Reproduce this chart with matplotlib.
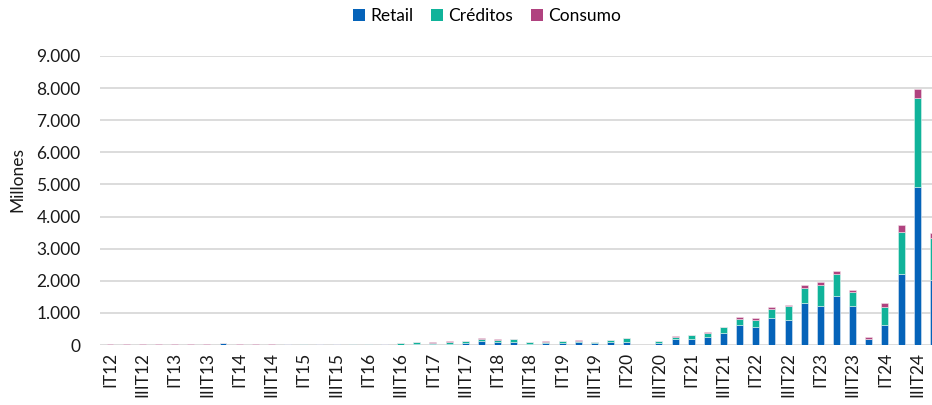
import matplotlib
matplotlib.use("Agg")
import matplotlib.pyplot as plt
from matplotlib.ticker import FuncFormatter
from matplotlib.patches import Patch
import numpy as np

plt.rcParams['font.family'] = ['Lato', 'DejaVu Sans']

years = list(range(12, 25))
roman = ['I', 'II', 'III', 'IV']
quarters = [f"{r}T{y}" for y in years for r in roman]

retail = [10, 10, 10, 10, 10, 10, 10, 50,
          10, 10, 10, 25, 10, 30, 30, 15,
          10, 20, 10, 40, 20, 45, 55, 115,
          85, 95, 20, 50, 55, 100, 50, 95,
          100, 5, 50, 190, 200, 250, 375, 625,
          560, 830, 770, 1320, 1205, 1540, 1205, 180,
          630, 2220, 4920, 2020]
creditos = [5, 5, 5, 5, 5, 5, 5, 10,
            5, 5, 5, 10, 10, 10, 10, 15,
            10, 15, 40, 45, 50, 55, 65, 70,
            75, 80, 70, 50, 55, 35, 40, 60,
            110, 5, 60, 50, 100, 110, 175, 175,
            230, 305, 430, 470, 650, 665, 440, 10,
            555, 1310, 2760, 1320]
consumo = [5, 5, 5, 10, 5, 10, 5, 10,
           5, 5, 5, 5, 20, 5, 5, 10,
           20, 5, 25, 10, 10, 10, 20, 30,
           25, 15, 10, 10, 20, 10, 10, 10,
           20, 5, 5, 30, 10, 50, 10, 60,
           40, 50, 50, 85, 95, 85, 75, 70,
           125, 210, 290, 160]

series_names = ['Retail', 'Créditos', 'Consumo']
colors = ['#0563B9', '#10B39A', '#B0427F']

fig = plt.figure(figsize=(9.32, 4.05), dpi=100)
ax = fig.add_axes([100/932, 60/405, 845/932, 289/405])

x = np.arange(len(quarters))
r = np.array(retail, float)
c = np.array(creditos, float)
co = np.array(consumo, float)
w = 0.43
ax.bar(x, r, w, color=colors[0], edgecolor='#dfe8f3', linewidth=0.4, zorder=3)
ax.bar(x, c, w, bottom=r, color=colors[1], edgecolor='#dff3ef', linewidth=0.4, zorder=3)
ax.bar(x, co, w, bottom=r + c, color=colors[2], edgecolor='#f3dfe9', linewidth=0.4, zorder=3)

ax.set_xlim(-0.62, 51.72)
ax.set_ylim(0, 9000)
ax.set_yticks(np.arange(0, 9001, 1000))
ax.yaxis.set_major_formatter(FuncFormatter(lambda v, p: f"{int(v):,}".replace(',', '.')))
ax.grid(axis='y', color='#d9d9d9', linewidth=1.3, zorder=0)
ax.set_axisbelow(True)
for s in ax.spines.values():
    s.set_visible(False)

ticks = x[::2]
ax.set_xticks(ticks)
ax.set_xticklabels([quarters[i] for i in ticks], rotation=90, fontsize=12.5, color='#1a1a1a')
ax.tick_params(axis='x', length=0, pad=5)
ax.tick_params(axis='y', length=0, pad=14, labelsize=12.5, labelcolor='#1a1a1a')

fig.text(17/932, 1 - 180/405, 'Millones', rotation=90, ha='center', va='center',
         fontsize=12.5, color='#1a1a1a')

handles = [Patch(facecolor=col, edgecolor='none') for col in colors]
fig.legend(handles, series_names, loc='center', bbox_to_anchor=(487/932, 1 - 16/405),
           ncol=3, frameon=False, fontsize=12.5, handlelength=0.7, handleheight=0.7,
           handletextpad=0.3, columnspacing=1.0)

fig.savefig('out.png', dpi=100)
